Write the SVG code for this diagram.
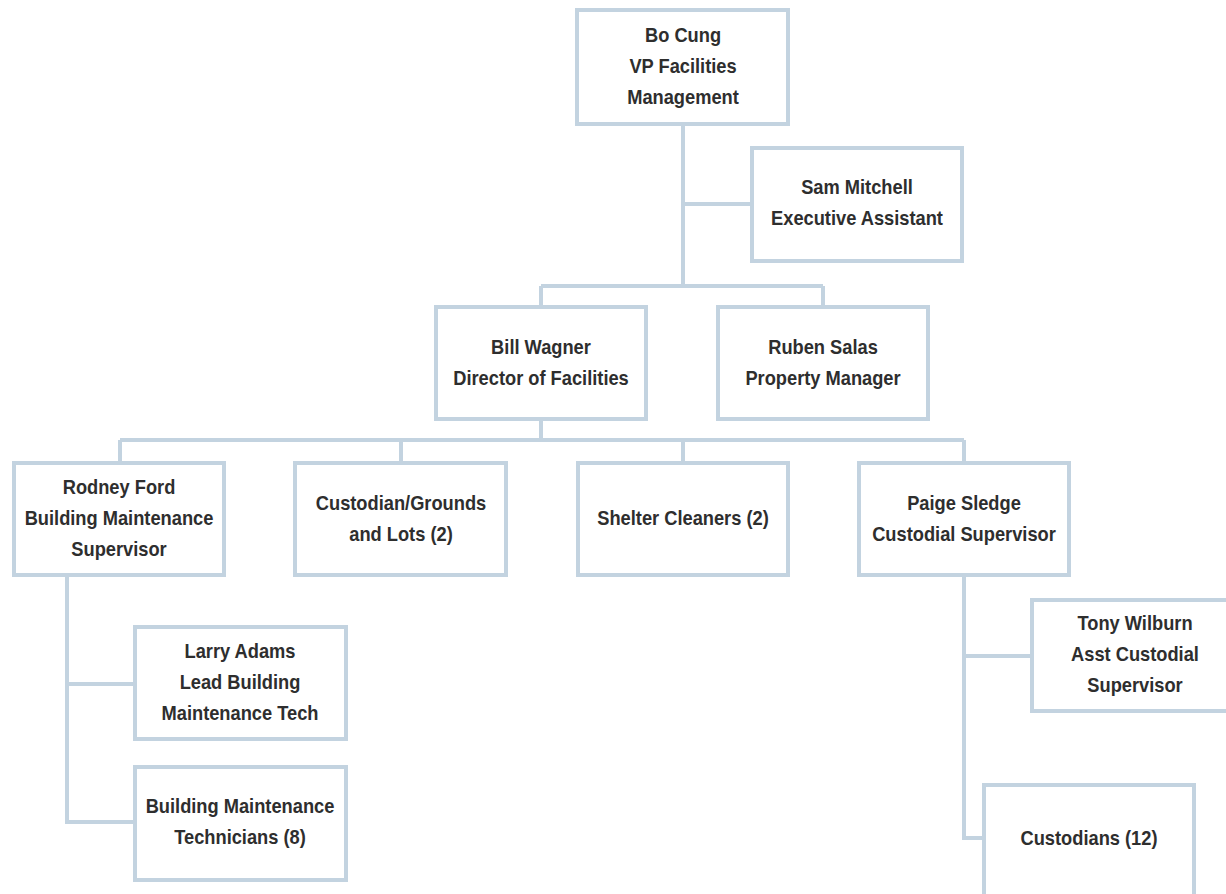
<svg xmlns="http://www.w3.org/2000/svg" width="1226" height="894" viewBox="0 0 1226 894">
  <style>
    .box { fill: #ffffff; stroke: #c3d3e0; stroke-width: 4; }
    .link { fill: none; stroke: #c3d3e0; stroke-width: 4; }
    text { font-family: "Liberation Sans", Arial, sans-serif; font-weight: bold; font-size: 21px; fill: #2e2e2e; text-anchor: middle; }
  </style>
  <rect width="1226" height="894" fill="#ffffff"/>

  <g id="connectors">
    <path class="link" d="M683 124 V286 M683 204 H752 M541 286 H823 M541 286 V307 M823 286 V307"/>
    <path class="link" d="M541 419 V440 M120 440 H964 M120 440 V463 M401 440 V463 M683 440 V463 M964 440 V463"/>
    <path class="link" d="M67 575 V822 H135 M67 684 H135"/>
    <path class="link" d="M964 575 V838 H984 M964 656 H1032"/>
  </g>

  <!-- labels are set in a condensed cut: each text is squeezed horizontally about its centre -->
  <g id="bo-cung">
    <rect class="box" x="577" y="10" width="211" height="114"/>
    <text transform="translate(683 0) scale(0.87 1)" y="42">Bo Cung</text>
    <text transform="translate(683 0) scale(0.87 1)" y="73">VP Facilities</text>
    <text transform="translate(683 0) scale(0.87 1)" y="104">Management</text>
  </g>

  <g id="sam-mitchell">
    <rect class="box" x="752" y="148" width="210" height="113"/>
    <text transform="translate(857 0) scale(0.87 1)" y="194">Sam Mitchell</text>
    <text transform="translate(857 0) scale(0.87 1)" y="225">Executive Assistant</text>
  </g>

  <g id="bill-wagner">
    <rect class="box" x="436" y="307" width="210" height="112"/>
    <text transform="translate(541 0) scale(0.87 1)" y="354">Bill Wagner</text>
    <text transform="translate(541 0) scale(0.87 1)" y="385">Director of Facilities</text>
  </g>

  <g id="ruben-salas">
    <rect class="box" x="718" y="307" width="210" height="112"/>
    <text transform="translate(823 0) scale(0.87 1)" y="354">Ruben Salas</text>
    <text transform="translate(823 0) scale(0.87 1)" y="385">Property Manager</text>
  </g>

  <g id="rodney-ford">
    <rect class="box" x="14" y="463" width="210" height="112"/>
    <text transform="translate(119 0) scale(0.87 1)" y="494">Rodney Ford</text>
    <text transform="translate(119 0) scale(0.87 1)" y="525">Building Maintenance</text>
    <text transform="translate(119 0) scale(0.87 1)" y="556">Supervisor</text>
  </g>

  <g id="custodian-grounds">
    <rect class="box" x="295" y="463" width="211" height="112"/>
    <text transform="translate(401 0) scale(0.87 1)" y="510">Custodian/Grounds</text>
    <text transform="translate(401 0) scale(0.87 1)" y="541">and Lots (2)</text>
  </g>

  <g id="shelter-cleaners">
    <rect class="box" x="578" y="463" width="210" height="112"/>
    <text transform="translate(683 0) scale(0.87 1)" y="525">Shelter Cleaners (2)</text>
  </g>

  <g id="paige-sledge">
    <rect class="box" x="859" y="463" width="210" height="112"/>
    <text transform="translate(964 0) scale(0.87 1)" y="510">Paige Sledge</text>
    <text transform="translate(964 0) scale(0.87 1)" y="541">Custodial Supervisor</text>
  </g>

  <g id="larry-adams">
    <rect class="box" x="135" y="627" width="211" height="112"/>
    <text transform="translate(240 0) scale(0.87 1)" y="658">Larry Adams</text>
    <text transform="translate(240 0) scale(0.87 1)" y="689">Lead Building</text>
    <text transform="translate(240 0) scale(0.87 1)" y="720">Maintenance Tech</text>
  </g>

  <g id="maintenance-technicians">
    <rect class="box" x="135" y="767" width="211" height="113"/>
    <text transform="translate(240 0) scale(0.87 1)" y="813">Building Maintenance</text>
    <text transform="translate(240 0) scale(0.87 1)" y="844">Technicians (8)</text>
  </g>

  <g id="tony-wilburn">
    <rect class="box" x="1032" y="600" width="210" height="111"/>
    <text transform="translate(1135 0) scale(0.87 1)" y="630">Tony Wilburn</text>
    <text transform="translate(1135 0) scale(0.87 1)" y="661">Asst Custodial</text>
    <text transform="translate(1135 0) scale(0.87 1)" y="692">Supervisor</text>
  </g>

  <g id="custodians">
    <rect class="box" x="984" y="785" width="210" height="130"/>
    <text transform="translate(1089 0) scale(0.87 1)" y="845">Custodians (12)</text>
  </g>
</svg>
